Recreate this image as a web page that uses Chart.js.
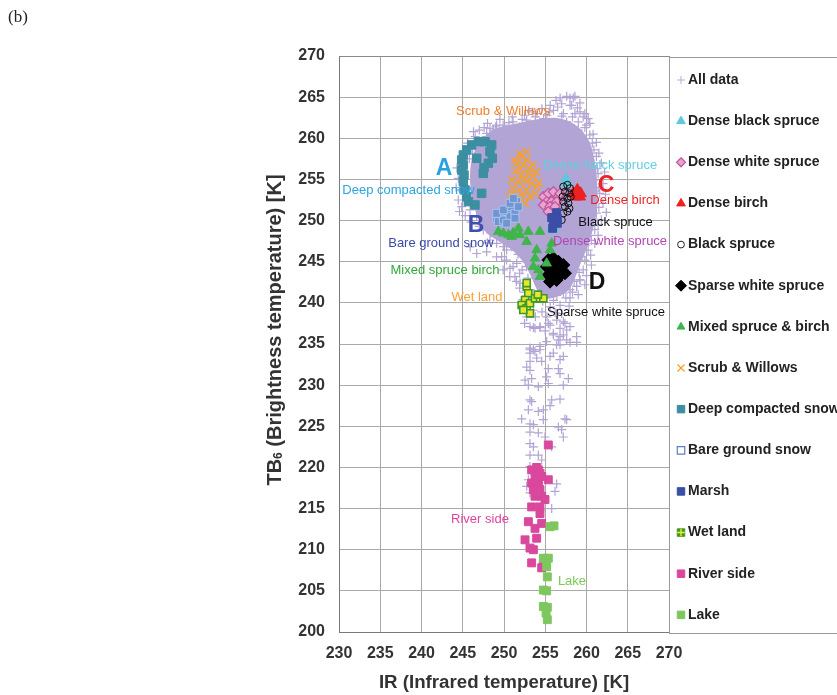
<!DOCTYPE html>
<html><head><meta charset="utf-8">
<style>html,body{margin:0;padding:0;background:#fff;}canvas{display:block;}</style>
<script src="https://cdn.jsdelivr.net/npm/chart.js@4.4.1/dist/chart.umd.min.js"></script>
</head><body>
<canvas id="c" width="837" height="695"></canvas>
<script>
// ---------- tick labels ----------
const xTickValues = [230,235,240,245,250,255,260,265,270];
const xTickLabels = ['230','235','240','245','250','255','260','265','270'];
const yTickValues = [200,205,210,215,220,225,230,235,240,245,250,255,260,265,270];
const yTickLabels = ['200','205','210','215','220','225','230','235','240','245','250','255','260','265','270'];

// ---------- series (IR, TB6) ----------
// dense core outline of the "All data" cloud
const allDataCore = [[247.4,260.0],[248.6,261.0],[250.0,261.5],[252.0,261.9],[254.0,262.3],[256.0,262.5],[257.8,262.1],[259.3,261.1],[260.4,259.5],[261.0,257.2],[261.3,254.5],[261.3,251.5],[260.8,249.0],[260.1,246.8],[259.3,244.8],[258.6,243.0],[257.8,241.5],[256.3,240.7],[254.8,240.5],[254.0,241.6],[253.2,243.4],[252.3,245.0],[251.0,246.4],[249.5,247.4],[248.0,248.4],[247.0,249.9],[246.3,252.0],[245.9,254.5],[246.0,257.0],[246.6,258.9]];
const allData = [
[256.8,264.9],[257.6,265.1],[258.4,264.9],[258.0,264.0],[257.2,263.0],[259.6,262.6],[260.0,261.6],[258.0,264.9],[258.6,265.1],[258.2,264.0],[259.2,264.3],[259.2,263.2],[259.8,263.0],[258.6,263.0],[260.2,262.4],[260.4,261.8],[259.0,262.0],[257.6,262.0],[254.0,263.0],[254.8,262.4],[252.75,262.2],[256.0,263.4],[249.9,261.6],[251.1,262.0],[251.9,261.4],[248.7,261.0],[247.9,260.6],[248.3,260.0],[248.3,261.2],[249.1,261.6],[247.9,260.2],[247.0,261.0],[246.5,260.2],[248.0,261.8],[249.5,262.3],[251.0,262.6],[252.5,262.8],[253.5,263.2],[255.5,263.2],[256.5,263.8],[260.8,260.5],[261.2,259.5],
[259.0,261.0],[258.3,262.6],[257.0,262.7],[255.2,262.8],[253.8,262.6],[252.2,262.3],[250.6,261.9],[249.0,261.4],[247.6,261.3],[246.9,259.3],[246.3,260.8],[256.3,264.6],[257.0,264.2],[255.6,264.0],[258.9,263.7],[259.8,261.3],[260.4,260.4],[260.7,259.4],[254.6,263.6],[253.0,263.4],
[261.2,257.8],[261.8,257.0],[261.4,255.7],[262.0,254.5],[261.6,253.3],[262.0,252.1],[261.2,250.9],[261.8,250.1],[261.0,248.9],[260.6,247.6],[260.2,246.4],[259.8,245.2],[259.6,244.0],[259.2,242.8],[258.8,242.0],[258.0,241.6],[257.2,241.2],[256.4,240.9],[255.6,241.6],
[260.9,258.6],[261.5,258.2],[260.7,256.5],[261.3,256.3],[262.2,255.9],[260.9,254.9],[261.5,254.0],[261.0,253.6],[262.3,253.2],[260.9,252.4],[261.5,251.6],[260.8,250.2],[262.4,251.0],[261.4,249.5],[260.4,248.2],[261.4,248.2],[259.9,247.0],[261.0,247.2],[260.5,245.8],[259.4,245.6],[260.6,244.6],[259.1,243.7],[260.0,243.3],[258.5,242.6],[259.8,242.2],[258.3,241.3],[257.5,240.6],[256.0,240.3],[254.7,240.2],[257.9,239.6],[259.0,241.0],
[244.46,255.14],[244.67,253.72],[244.46,252.5],[244.87,251.69],[245.88,251.29],[246.69,250.48],[247.9,250.07],[247.49,248.86],[248.3,247.64],[249.11,247.24],[249.92,246.83],[250.93,246.83],[251.54,246.43],[250.32,246.43],[249.72,245.62],[251.54,244.81],[252.75,244.4],[252.34,246.0],[250.73,244.2],[251.33,243.2],[251.94,242.4],[253.15,241.6],[245.9,246.8],[246.7,246.0],[247.9,246.2],[249.1,245.6],[250.3,245.2],[251.1,244.4],[251.9,243.6],[250.7,243.2],[249.9,244.0],[251.5,242.6],[251.9,241.8],[251.1,247.0],[252.3,240.4],
[245.6,259.4],[246.2,258.1],[245.8,257.5],[244.3,256.4],[244.2,254.0],[244.6,251.1],[245.3,250.6],[246.0,249.8],[247.0,249.3],[248.4,248.5],[249.0,249.2],[248.0,247.3],[249.9,247.8],[250.5,247.5],[251.7,245.9],[252.6,245.0],[252.2,244.0],[252.9,243.0],[252.5,241.3],[253.6,240.5],[253.8,238.3],[254.6,238.9],[256.2,238.8],[257.0,238.7],[252.5,237.5],[255.0,236.6],
[252.75,238.3],[253.55,239.1],[255.2,238.3],[255.6,239.5],[256.8,239.7],[258.0,240.6],[258.8,242.0],[259.2,242.8],
[253.15,237.1],[253.76,236.9],[254.36,237.1],[255.37,237.5],[256.39,237.9],[257.19,237.7],[257.6,236.7],[255.98,236.3],[256.79,235.9],[255.17,235.3],[256.79,234.9],[257.6,235.5],[253.15,234.5],[253.76,234.1],[254.36,234.7],[255.98,233.9],[257.19,233.5],[253.96,233.3],[258.8,235.9],[258.0,237.1],
[253.56,237.0],[254.36,237.0],[255.58,237.3],[256.79,236.9],[257.39,237.5],[255.98,236.1],[257.19,236.1],[256.59,235.5],[258.0,235.2],[258.81,235.2],[256.38,234.9],
[253.15,234.3],[253.56,234.3],[254.36,234.3],[253.15,233.9],[255.58,233.5],[256.79,233.1],[253.15,232.9],[254.57,232.9],[252.75,232.2],[255.37,232.0],[256.59,232.0],[256.79,231.4],[253.15,231.8],[252.55,230.6],[253.35,230.8],[255.17,231.0],[257.19,230.0],[257.8,230.8],[254.16,229.8],[255.37,230.2],[252.95,230.0],
[253.15,228.2],[253.35,228.0],[255.78,228.2],[256.79,228.3],[252.95,227.0],[255.58,227.5],[254.77,227.0],[254.16,226.8],[252.14,225.9],[253.15,225.3],[253.56,225.2],[254.77,225.8],[257.39,225.9],[257.6,225.8],[256.59,224.9],[256.99,224.6],[257.19,223.7],[253.15,224.3],[254.16,224.2],[254.97,223.7],[253.15,222.9],[253.56,222.5],[255.78,222.5],[253.15,221.5],[254.16,221.5],[254.57,220.9],[253.15,220.1],[252.95,218.5],[252.75,217.7],[253.15,216.9],[256.38,218.0],[256.18,217.1],[255.78,215.0]
];
const denseBlackSpruce = [[257.52,255.14],[257.68,254.73],[257.39,254.53],[255.78,249.06],[256.18,249.26],[255.98,248.86]];
const denseWhiteSpruce = [[254.77,252.9],[255.37,253.31],[255.98,253.51],[256.59,252.9],[255.17,252.3],[255.78,252.3],[256.38,252.3],[254.77,251.9],[255.58,251.69],[256.18,251.69],[255.37,251.09],[256.79,253.31]];
const denseBirch = [[258.4,253.31],[258.89,253.72],[259.29,253.31],[258.73,252.9],[259.21,252.9],[259.01,253.39]];
const blackSpruce = [[257.19,254.12],[257.68,254.33],[258.0,253.92],[257.39,253.51],[257.92,253.31],[257.11,252.9],[257.68,252.7],[258.08,252.9],[257.19,252.3],[257.8,252.1],[257.39,251.69],[257.92,251.49],[257.19,250.88],[257.68,251.09],[256.99,250.07]];
const sparseWhiteSpruce = [[255.37,245.21],[255.98,245.41],[256.59,245.0],[257.19,244.6],[255.17,244.4],[255.78,244.4],[256.38,244.2],[256.99,244.0],[257.39,243.6],[255.37,243.39],[255.98,243.19],[256.79,243.39],[255.58,242.58],[256.38,242.78]];
const mixedSpruceBirch = [[249.31,248.66],[249.92,248.45],[250.53,248.25],[251.13,248.53],[251.74,249.06],[251.94,248.25],[252.95,248.66],[254.36,248.66],[252.75,247.44],[253.96,246.43],[253.76,245.41],[253.56,244.4],[254.16,244.0],[254.36,243.19],[255.17,244.81],[255.58,246.43],[255.78,247.24],[250.93,248.05]];
const scrubWillows = [[252.14,257.77],[252.75,257.36],[251.54,256.96],[252.34,256.76],[253.15,256.35],[251.33,255.95],[252.14,255.54],[252.95,255.74],[253.56,255.34],[250.93,254.93],[251.74,254.73],[252.75,254.73],[253.35,254.53],[253.96,254.12],[251.13,253.92],[251.94,253.72],[252.75,253.72],[250.73,252.9],[251.54,252.7],[252.34,252.9],[253.15,252.9],[250.93,251.9],[251.74,251.9],[252.55,252.1],[251.33,257.36],[252.75,258.38],[251.94,258.17],[250.93,253.31],[253.5,256.8],[252.0,256.3],[253.8,253.3],[252.5,255.0],[254.2,254.6],[253.9,255.9]];
const deepCompactedSnow = [[246.08,259.19],[246.89,259.59],[247.70,259.59],[248.51,259.19],[245.48,258.58],[245.07,257.97],[244.87,257.36],[245.07,256.76],[244.87,256.15],[245.15,255.54],[245.07,254.73],[245.27,253.72],[245.48,252.9],[245.68,252.3],[246.48,251.9],[246.69,257.57],[248.30,258.38],[248.58,257.57],[248.1,256.96],[247.58,256.43],[247.49,255.74],[247.29,253.31]];
const bareGroundSnow = [[249.11,250.28],[249.72,250.68],[250.32,251.09],[250.93,251.69],[251.54,252.3],[249.31,249.87],[249.92,250.07],[250.73,250.48],[251.33,250.88],[251.74,251.69],[249.11,250.88],[249.92,251.29],[250.73,252.1],[251.13,252.7],[250.32,249.67],[251.33,250.28]];
const marsh = [[256.38,250.96],[255.78,250.36],[256.46,250.28],[255.98,249.67],[256.46,249.67],[255.9,249.06]];
const wetLand = [[252.75,241.97],[252.95,241.16],[252.55,240.35],[252.14,239.74],[252.75,239.34],[253.15,239.95],[253.76,240.55],[254.36,240.55],[254.77,240.55],[253.15,238.73],[252.34,239.14],[252.75,242.4],[254.1,241.0]];
const riverSide = [[255.37,222.73],[253.35,219.7],[254.16,219.7],[253.76,218.9],[254.57,218.9],[253.35,218.1],[254.16,218.1],[253.56,217.3],[254.36,217.3],[253.76,216.5],[254.57,216.5],[255.37,218.5],[253.35,215.2],[254.36,215.2],[254.36,214.4],[254.97,216.1],[252.95,213.4],[253.76,212.6],[254.57,213.2],[252.55,211.2],[253.96,211.4],[253.15,210.2],[253.56,210.0],[253.35,208.4],[254.57,207.8],[254.77,208.2],[253.96,220.0],[254.16,217.7],[253.96,216.9],[254.36,219.3]];
const lake = [[255.58,212.8],[256.06,212.9],[254.77,208.97],[255.37,208.97],[255.17,207.95],[255.25,206.7],[254.77,205.1],[255.17,205.0],[254.77,203.1],[255.25,203.0],[255.1,202.3],[255.25,201.5]];

// ---------- legend / annotation text ----------
const legendLabels = ['All data','Dense black spruce','Dense white spruce','Dense birch','Black spruce','Sparse white spruce','Mixed spruce & birch','Scrub & Willows','Deep compacted snow','Bare ground snow','Marsh','Wet land','River side','Lake'];
const annoText = ['Scrub & Willows','A','Deep compacted snow','B','Bare ground snow','Mixed spruce birch','Wet land','Dense balck spruce','C','Dense birch','Black spruce','Dense white spruce','D','Sparse white spruce','River side','Lake'];
const annoAt = [[249.88,263.32],[242.73,256.27],[238.42,253.63],[246.6,249.34],[242.36,247.28],[242.85,244.0],[246.73,240.72],[261.64,256.76],[262.36,254.2],[264.67,252.42],[263.52,249.74],[262.85,247.44],[261.27,242.42],[262.36,238.81],[247.09,213.74],[258.24,206.09]];

// ---------- styles ----------
const LAV = '#b2a4d5';
const annoColor = ['#f07d28','#27a3e3','#2aa6e0','#3f4fb0','#3b4aa8','#2fa83a','#f7a035','#62d0e2','#ee2424','#ee2424','#111111','#b444b4','#111111','#111111','#de45a0','#7cc85a'];
const annoBig = [false,true,false,true,false,false,false,false,true,false,false,false,true,false,false,false];
const seriesStyle = [
  {data: allData, style:'cross', r:4.5, bg:LAV, bd:LAV, bw:1.2},
  {data: denseBlackSpruce, style:'triangle', r:5.5, bg:'#5fc8da', bd:'#5fc8da', bw:1},
  {data: denseWhiteSpruce, style:'rectRot', r:5, bg:'#e7a3cd', bd:'#c4569f', bw:1.3},
  {data: denseBirch, style:'triangle', r:6.5, bg:'#ee2020', bd:'#ee2020', bw:1},
  {data: blackSpruce, style:'circle', r:3.6, bg:'rgba(0,0,0,0)', bd:'#111111', bw:1},
  {data: sparseWhiteSpruce, style:'rectRot', r:6.5, bg:'#000000', bd:'#000000', bw:1},
  {data: mixedSpruceBirch, style:'triangle', r:5.5, bg:'#3fb54b', bd:'#3fb54b', bw:1},
  {data: scrubWillows, style:'crossRot', r:5.5, bg:'#f5a030', bd:'#f5a030', bw:1.5},
  {data: deepCompactedSnow, style:'rect', r:6, bg:'#3c8fa2', bd:'#3c8fa2', bw:1},
  {data: bareGroundSnow, style:'rect', r:5.6, bg:'#6f96d2', bd:'#a9c2ea', bw:1},
  {data: marsh, style:'rect', r:5.6, bg:'#3b4ea6', bd:'#3b4ea6', bw:1},
  {data: wetLand, style:'rect', r:5, bg:'#ece52e', bd:'#3d9a2a', bw:1.6},
  {data: riverSide, style:'rect', r:5.6, bg:'#d9489d', bd:'#d9489d', bw:1},
  {data: lake, style:'rect', r:5.6, bg:'#7ec75f', bd:'#7ec75f', bw:1}
];
const legendMarks = [
  {style:'cross', r:4, bg:'#b6a9da', bd:'#b6a9da', bw:1},
  {style:'triangle', r:5, bg:'#5fc8da', bd:'#5fc8da', bw:1},
  {style:'rectRot', r:4.5, bg:'#e7a3cd', bd:'#c4569f', bw:1.2},
  {style:'triangle', r:5, bg:'#ee2020', bd:'#ee2020', bw:1},
  {style:'circle', r:3.4, bg:'#ffffff', bd:'#222222', bw:1},
  {style:'rectRot', r:5.5, bg:'#000000', bd:'#000000', bw:1},
  {style:'triangle', r:4.5, bg:'#3fb54b', bd:'#3fb54b', bw:1},
  {style:'crossRot', r:5, bg:'#f5a030', bd:'#f5a030', bw:1.3},
  {style:'rect', r:5.3, bg:'#3c8fa2', bd:'#3c8fa2', bw:1},
  {style:'rect', r:5.3, bg:'#ffffff', bd:'#5b80c8', bw:1.2},
  {style:'rect', r:5.3, bg:'#3b4ea6', bd:'#3b4ea6', bw:1},
  {style:'wet', r:5.3, bg:'#3d9a2a', bd:'#3d9a2a', bw:1},
  {style:'rect', r:5.3, bg:'#d9489d', bd:'#d9489d', bw:1},
  {style:'rect', r:5.3, bg:'#7ec75f', bd:'#7ec75f', bw:1}
];

const toPts = arr => arr.map(p => ({x: p[0], y: p[1]}));

const datasets = seriesStyle.map((s, i) => ({
  label: legendLabels[i],
  data: toPts(s.data),
  pointStyle: s.style,
  pointRadius: s.r,
  pointHoverRadius: s.r,
  pointBackgroundColor: s.bg,
  pointBorderColor: s.bd,
  pointBorderWidth: s.bw,
  backgroundColor: s.bg,
  borderColor: s.bd,
  order: 100 - i
}));
datasets.push({
  type: 'line',
  label: 'All data (dense)',
  data: toPts(allDataCore),
  showLine: true,
  fill: 'shape',
  tension: 0.3,
  pointRadius: 0,
  pointHoverRadius: 0,
  borderWidth: 0,
  borderColor: LAV,
  backgroundColor: LAV,
  order: 101
});

function drawMark(ctx, m, x, y) {
  const r = m.r;
  ctx.save();
  ctx.fillStyle = m.bg; ctx.strokeStyle = m.bd; ctx.lineWidth = m.bw;
  ctx.beginPath();
  if (m.style === 'cross') {
    ctx.moveTo(x - r, y); ctx.lineTo(x + r, y); ctx.moveTo(x, y - r); ctx.lineTo(x, y + r); ctx.stroke();
  } else if (m.style === 'crossRot') {
    const d = r * Math.SQRT1_2;
    ctx.moveTo(x - d, y - d); ctx.lineTo(x + d, y + d); ctx.moveTo(x + d, y - d); ctx.lineTo(x - d, y + d); ctx.stroke();
  } else if (m.style === 'triangle') {
    for (let k = 0; k < 3; k++) {
      const a = k * 2 * Math.PI / 3;
      const px = x + Math.sin(a) * r, py = y - Math.cos(a) * r;
      if (k === 0) ctx.moveTo(px, py); else ctx.lineTo(px, py);
    }
    ctx.closePath(); ctx.fill(); ctx.stroke();
  } else if (m.style === 'rectRot') {
    ctx.moveTo(x, y - r); ctx.lineTo(x + r, y); ctx.lineTo(x, y + r); ctx.lineTo(x - r, y); ctx.closePath(); ctx.fill(); ctx.stroke();
  } else if (m.style === 'circle') {
    ctx.arc(x, y, r, 0, Math.PI * 2); ctx.fill(); ctx.stroke();
  } else {
    const s = r * Math.SQRT1_2;
    ctx.rect(x - s, y - s, 2 * s, 2 * s); ctx.fill(); ctx.stroke();
    if (m.style === 'wet') {
      ctx.beginPath(); ctx.strokeStyle = '#f2ea2a'; ctx.lineWidth = 1.4;
      ctx.moveTo(x - s, y); ctx.lineTo(x + s, y); ctx.moveTo(x, y - s); ctx.lineTo(x, y + s); ctx.stroke();
    }
  }
  ctx.restore();
}

const FONT = "'Liberation Sans', Arial, sans-serif";

const decorPlugin = {
  id: 'decor',
  afterDatasetsDraw(chart) {
    const ctx = chart.ctx, xs = chart.scales.x, ys = chart.scales.y;
    ctx.save();
    ctx.textAlign = 'center'; ctx.textBaseline = 'middle';
    annoText.forEach((t, i) => {
      ctx.font = annoBig[i] ? 'bold 23px ' + FONT : '13px ' + FONT;
      ctx.fillStyle = annoColor[i];
      ctx.fillText(t, xs.getPixelForValue(annoAt[i][0]), ys.getPixelForValue(annoAt[i][1]));
    });
    ctx.restore();
  },
  afterDraw(chart) {
    const ctx = chart.ctx, ca = chart.chartArea;
    ctx.save();
    // legend box
    ctx.strokeStyle = '#9a9a9a'; ctx.lineWidth = 1;
    ctx.strokeRect(ca.right + 0.5, ca.top + 1.5, 300, ca.bottom - ca.top);
    ctx.textAlign = 'left'; ctx.textBaseline = 'middle';
    ctx.font = 'bold 14px ' + FONT; ctx.fillStyle = '#222';
    const step = (ca.bottom - ca.top) / 14;
    legendLabels.forEach((t, i) => {
      const y = ca.top + 24 + i * step;
      drawMark(ctx, legendMarks[i], ca.right + 12, y);
      ctx.fillStyle = '#222';
      ctx.fillText(t, ca.right + 19, y);
    });
    // y axis title with subscript
    ctx.save();
    ctx.translate(275, 330);
    ctx.rotate(-Math.PI / 2);
    ctx.fillStyle = '#333';
    const big = 'bold 20px ' + FONT, small = 'bold 12px ' + FONT;
    const p1 = 'TB', p2 = '6', p3 = ' (Brightness temperature) [K]';
    ctx.font = big; const w1 = ctx.measureText(p1).width, w3 = ctx.measureText(p3).width;
    ctx.font = small; const w2 = ctx.measureText(p2).width;
    let x0 = -(w1 + w2 + w3) / 2;
    ctx.textAlign = 'left'; ctx.textBaseline = 'middle';
    ctx.font = big; ctx.fillText(p1, x0, 0); x0 += w1;
    ctx.font = small; ctx.fillText(p2, x0, 4); x0 += w2;
    ctx.font = big; ctx.fillText(p3, x0, 0);
    ctx.restore();
    // panel label
    ctx.font = "17px 'Liberation Serif', 'Times New Roman', serif";
    ctx.fillStyle = '#222'; ctx.textAlign = 'left'; ctx.textBaseline = 'middle';
    ctx.fillText('(b)', 8, 18);
    ctx.restore();
  }
};

new Chart(document.getElementById('c'), {
  type: 'scatter',
  data: { datasets },
  options: {
    responsive: false,
    animation: false,
    devicePixelRatio: 1,
    layout: { padding: { left: 263, right: 168, top: 56, bottom: 0 } },
    plugins: { legend: { display: false }, tooltip: { enabled: false } },
    scales: {
      x: {
        type: 'linear', min: 230, max: 270,
        afterBuildTicks: s => { s.ticks = xTickValues.map(v => ({ value: v })); },
        afterFit: s => { s.height = 63; },
        ticks: { callback: (v, i) => xTickLabels[i], font: { family: FONT, size: 16, weight: 'bold' }, color: '#333', padding: 12, maxRotation: 0 },
        grid: { color: c => (c.tick && c.tick.value === 270) ? '#8a8a8a' : '#a9a9a9', lineWidth: 1, drawTicks: false },
        border: { color: '#7a7a7a', width: 1 },
        title: { display: true, text: 'IR (Infrared temperature) [K]', font: { family: FONT, size: 18.7, weight: 'bold' }, color: '#333', padding: { top: 0, bottom: 1 } }
      },
      y: {
        type: 'linear', min: 200, max: 270,
        afterBuildTicks: s => { s.ticks = yTickValues.map(v => ({ value: v })); },
        afterFit: s => { s.width = 76; },
        ticks: { callback: (v, i) => yTickLabels[i], font: { family: FONT, size: 16, weight: 'bold' }, color: '#333', padding: 14 },
        grid: { color: c => (c.tick && c.tick.value === 270) ? '#8a8a8a' : '#a9a9a9', lineWidth: 1, drawTicks: false },
        border: { color: '#7a7a7a', width: 1 }
      }
    }
  },
  plugins: [decorPlugin]
});
</script>
</body></html>
